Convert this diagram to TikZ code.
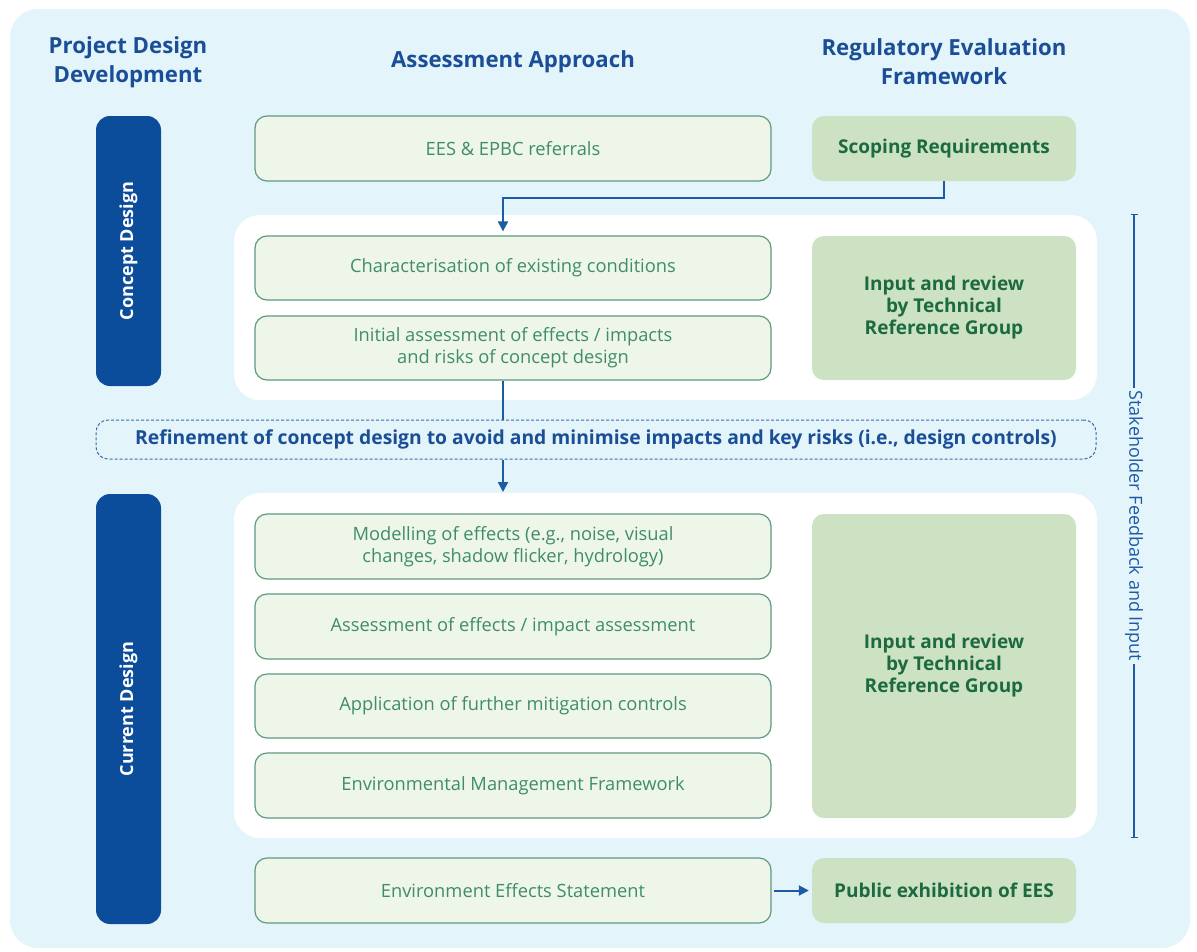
\documentclass[tikz,border=0pt]{standalone}
\usepackage{fontspec}
\setmainfont{Open Sans}
\usetikzlibrary{arrows.meta,calc}
\definecolor{bgblue}{HTML}{E4F4FB}
\definecolor{darkbar}{HTML}{0B4C9B}
\definecolor{headblue}{HTML}{1A4E96}
\definecolor{arrblue}{HTML}{1D5BA4}
\definecolor{gborder}{HTML}{5F9A80}
\definecolor{gfill}{HTML}{EEF6EA}
\definecolor{gtext}{HTML}{3F8C6B}
\definecolor{rfill}{HTML}{CDE1C3}
\definecolor{rtext}{HTML}{1C6B40}
\definecolor{dashblue}{HTML}{3C6EA8}
\tikzset{
  gbox/.style={draw=gborder, line width=1.2pt, fill=gfill, rounded corners=12pt, text=gtext,
    minimum width=516pt, align=center, font=\fontsize{18.3}{22}\selectfont, inner sep=0pt},
  rbox/.style={fill=rfill, rounded corners=12pt, text=rtext, minimum width=264pt, align=center,
    font=\fontsize{19}{22}\selectfont\bfseries, inner sep=0pt},
  bar/.style={fill=darkbar, rounded corners=14pt, minimum width=65pt, inner sep=0pt},
  bartext/.style={text=white, font=\fontsize{18}{20}\selectfont\bfseries, rotate=90},
  panel/.style={fill=white, rounded corners=26pt, minimum width=863pt, inner sep=0pt},
  head/.style={text=headblue, align=center, font=\fontsize{22.2}{29}\selectfont\bfseries},
  conn/.style={draw=arrblue, line width=2pt},
  arr/.style={conn, -{Triangle[width=10pt,length=10pt]}},
}
\begin{document}
\begin{tikzpicture}[x=1pt,y=1pt]
\useasboundingbox (0,0) rectangle (1197,-951);
\fill[white] (0,0) rectangle (1197,-951);
\fill[bgblue, rounded corners=28pt] (10,-9) rectangle (1190,-948);

% headers
\node[head] (h1) at (128,-62) {Project Design\\Development};
\node[head] (h2) at (513,-62) {Assessment Approach};
\node[head] (h3) at (944,-62) {Regulatory Evaluation\\Framework};

% panels
\node[panel, minimum height=185pt] (p1) at (665.5,-307.5) {};
\node[panel, minimum height=345pt] (p2) at (665.5,-665.5) {};

% bars
\node[bar, minimum height=270pt] (cbar) at (128.5,-251) {};
\node[bartext] at (cbar.center) {Concept Design};
\node[bar, minimum height=430pt] (dbar) at (128.5,-709) {};
\node[bartext] at (dbar.center) {Current Design};

% left column
\node[gbox, minimum height=65pt] (ees) at (513,-148.5) {EES \& EPBC referrals};
\node[gbox, minimum height=64pt] (char) at (513,-268) {Characterisation of existing conditions};
\node[gbox, minimum height=64pt] (init) at (513,-348) {Initial assessment of effects / impacts\\and risks of concept design};
\node[gbox, minimum height=65pt] (model) at (513,-546.5) {Modelling of effects (e.g., noise, visual\\changes, shadow flicker, hydrology)};
\node[gbox, minimum height=65pt] (assess) at (513,-626.5) {Assessment of effects / impact assessment};
\node[gbox, minimum height=64pt] (appl) at (513,-706) {Application of further mitigation controls};
\node[gbox, minimum height=65pt] (emf) at (513,-785.5) {Environmental Management Framework};
\node[gbox, minimum height=65pt] (eesst) at (513,-890.5) {Environment Effects Statement};

% right column
\node[rbox, minimum height=65pt] (scope) at (944,-148.5) {Scoping Requirements};
\node[rbox, minimum height=144pt] (irg1) at (944,-308) {Input and review\\by Technical\\Reference Group};
\node[rbox, minimum height=304pt] (irg2) at (944,-666) {Input and review\\by Technical\\Reference Group};
\node[rbox, minimum height=65pt] (pub) at (944,-890.5) {Public exhibition of EES};

% refinement
\node[draw=dashblue, line width=1pt, dash pattern=on 3pt off 2pt, rounded corners=12pt,
  minimum width=1000pt, minimum height=39pt, inner sep=0pt, text=headblue,
  font=\fontsize{19.3}{20}\selectfont\bfseries] (refine) at (596,-439.5)
  {Refinement of concept design to avoid and minimise impacts and key risks (i.e., design controls)};

% connectors
\draw[arr] (scope.south) -- ++(0,-17) -| ([xshift=-10pt,yshift=4pt]char.north);
\draw[conn] ([xshift=-10pt]init.south) -- ([xshift=-10pt]init.south |- refine.north);
\coordinate (a2) at (503,-492);
\draw[arr] (refine.south -| a2) -- (a2);
\draw[arr, shorten <=2pt, shorten >=3pt] (eesst.east) -- (pub.west);

% stakeholder
\coordinate (st) at (1134,-214);
\coordinate (sb) at (1134,-838);
\draw[draw=arrblue, line width=1.2pt, {Bar[width=7pt]}-{Bar[width=7pt]}] (st) -- (sb);
\node[fill=bgblue, text=arrblue, rotate=-90, inner sep=3pt, font=\fontsize{18}{20}\selectfont] (stake) at (1134,-526) {Stakeholder Feedback and Input};
\end{tikzpicture}
\end{document}
